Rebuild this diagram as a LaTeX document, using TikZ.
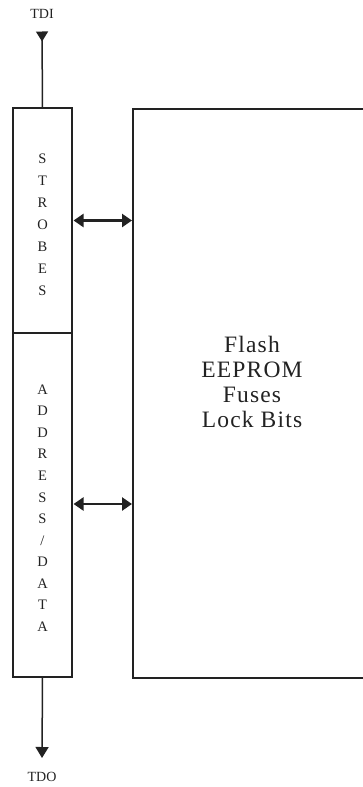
\documentclass[tikz,border=0pt]{standalone}
\usepackage{fontspec}
\setmainfont{Liberation Serif}
\newfontfamily\memfont[LetterSpace=5]{Liberation Serif}
\usetikzlibrary{arrows.meta}
\definecolor{ink}{HTML}{222222}
\tikzset{
  blk/.style={draw=ink, line width=1.5pt, rectangle, inner sep=0pt, minimum width=59pt},
  dbl/.style={draw=ink, color=ink, line width=2.8pt, {Triangle[length=10pt,width=13pt,fill=ink]}-{Triangle[length=10pt,width=13pt,fill=ink]}, shorten <=0.8pt, shorten >=0.8pt},
  sig/.style={draw=ink, color=ink, line width=1.5pt},
  pin/.style={font=\fontsize{14}{16}\selectfont, text=ink, inner sep=0pt},
  letters/.style={align=center, text=ink, inner sep=0pt}
}
\begin{document}
\begin{tikzpicture}[x=1pt,y=-1pt]
\useasboundingbox (0,0) rectangle (363,787);
\node[blk, minimum height=225pt] (strobes) at (42.5,220.5) {};
\node[blk, minimum height=344pt] (addr) at (42.5,505) {};
\node[inner sep=0pt, minimum width=230pt, minimum height=569pt] (mem) at (248,393.5) {};
\draw[sig] (mem.north east) -- (mem.north west) -- (mem.south west) -- (mem.south east);
\node[letters, font=\fontsize{14.5}{22}\selectfont] (strobestext) at (42.5,224.5) {S\\T\\R\\O\\B\\E\\S};
\node[letters, font=\fontsize{14.5}{21.55}\selectfont] (addrtext) at (42.5,508) {A\\D\\D\\R\\E\\S\\S\\/\\D\\A\\T\\A};
\node[letters, font=\memfont\fontsize{23.5}{25.3}\selectfont] (memtext) at (252,382) {Flash\\EEPROM\\Fuses\\Lock Bits};
\node[pin] (tdi) at (42,14) {TDI};
\node[pin] (tdo) at (42,777) {TDO};
\coordinate (tdiend) at (42,31.5);
\coordinate (tdoend) at (42,758);
\draw[sig, {Triangle[reversed,length=10pt,width=12pt,fill=ink]}-] (tdiend) -- (strobes.north);
\draw[sig, -{Triangle[length=11pt,width=13pt,fill=ink]}] (addr.south) -- (tdoend);
\draw[dbl] (strobes.east) -- (strobes.east -| mem.west);
\draw[dbl] ([yshift=1pt]addr.east) -- ([yshift=1pt]addr.east -| mem.west);
\end{tikzpicture}
\end{document}
